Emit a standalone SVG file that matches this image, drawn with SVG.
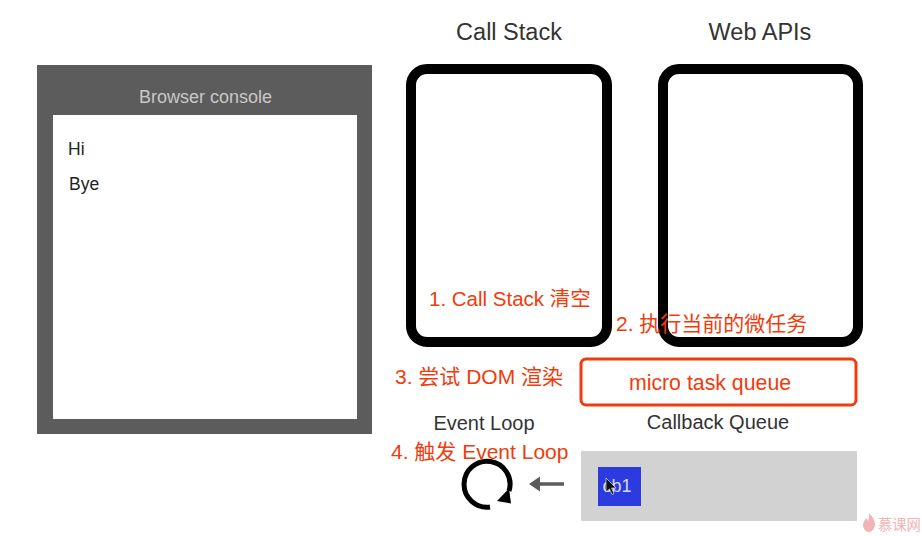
<svg xmlns="http://www.w3.org/2000/svg" width="922" height="536" viewBox="0 0 922 536">
<style>
text{font-family:"Liberation Sans","Noto Sans CJK SC",sans-serif}
.red{fill:#f03c0c;font-size:21px}
.lab{fill:#333;font-size:20px;text-anchor:middle}
.title{font-size:23.500px}
.box{fill:#fff;stroke:#000;stroke-width:10}
</style>
<rect width="922" height="536" fill="#fff"/>
<g id="console">
<rect x="37" y="65" width="335" height="369" fill="#5c5c5c"/>
<rect x="53" y="115" width="304" height="304" fill="#fff"/>
<text x="205.500" y="103" font-size="18" fill="#c8c8c8" text-anchor="middle">Browser console</text>
<text x="68" y="155" font-size="17.500" fill="#222">Hi</text>
<text x="69" y="190" font-size="17.500" fill="#222">Bye</text>
</g>
<g id="call-stack">
<text class="lab title" x="509" y="40">Call Stack</text>
<rect class="box" x="411" y="69" width="196" height="273" rx="16"/>
</g>
<g id="web-apis">
<text class="lab title" x="760" y="40">Web APIs</text>
<rect class="box" x="663" y="69" width="195" height="273" rx="16"/>
</g>
<g id="micro-task-queue">
<rect x="581" y="359" width="275" height="46" rx="5" fill="#fff" stroke="#f03c0c" stroke-width="3"/>
<text x="710" y="390" font-size="21.300" fill="#f03c0c" text-anchor="middle">micro task queue</text>
</g>
<g id="callback-queue">
<text class="lab" x="718" y="429">Callback Queue</text>
<rect x="581" y="451" width="276" height="70" fill="#d2d2d2"/>
<rect x="598" y="467" width="43" height="39" fill="#2b3be0"/>
<text x="617" y="492" font-size="18" fill="#d5d8f5" text-anchor="middle">cb1</text>
<path d="M606 478v14l3.500-3 2.500 5.500 2-1-2.500-5.500h4.500z" fill="#111" stroke="#fff" stroke-width=".6"/>
</g>
<g id="event-loop">
<text class="lab" x="484" y="430">Event Loop</text>
<path d="M490 507A23 23 0 1 1 509 491" fill="none" stroke="#000" stroke-width="5"/>
<path d="M497 501l14 2.500-2-15z" fill="#000"/>
</g>
<g id="connectors">
<path d="M564 484H536" fill="none" stroke="#5c5c5c" stroke-width="3.500"/>
<path d="M529 484l11-7.500v15z" fill="#5c5c5c"/>
</g>
<g id="annotations">
<text class="red" x="429" y="306" style="font-size:20.500px">1. Call Stack 清空</text>
<text class="red" x="616" y="331">2. 执行当前的微任务</text>
<text class="red" x="395" y="384">3. 尝试 DOM 渲染</text>
<text class="red" x="391" y="459">4. 触发 Event Loop</text>
</g>
<g id="watermark">
<path d="M869 513c4 4 6 8 6 11 0 4-2.500 8-6 8s-6-3.500-6-7c0-3 2-5 3-7 1 1 1.500 2 2 3 1-2 1.500-5 1-8z" fill="#f0b4b4"/>
<text x="878" y="530" font-size="14.300" fill="#f0b4b4">慕课网</text>
</g>
</svg>
